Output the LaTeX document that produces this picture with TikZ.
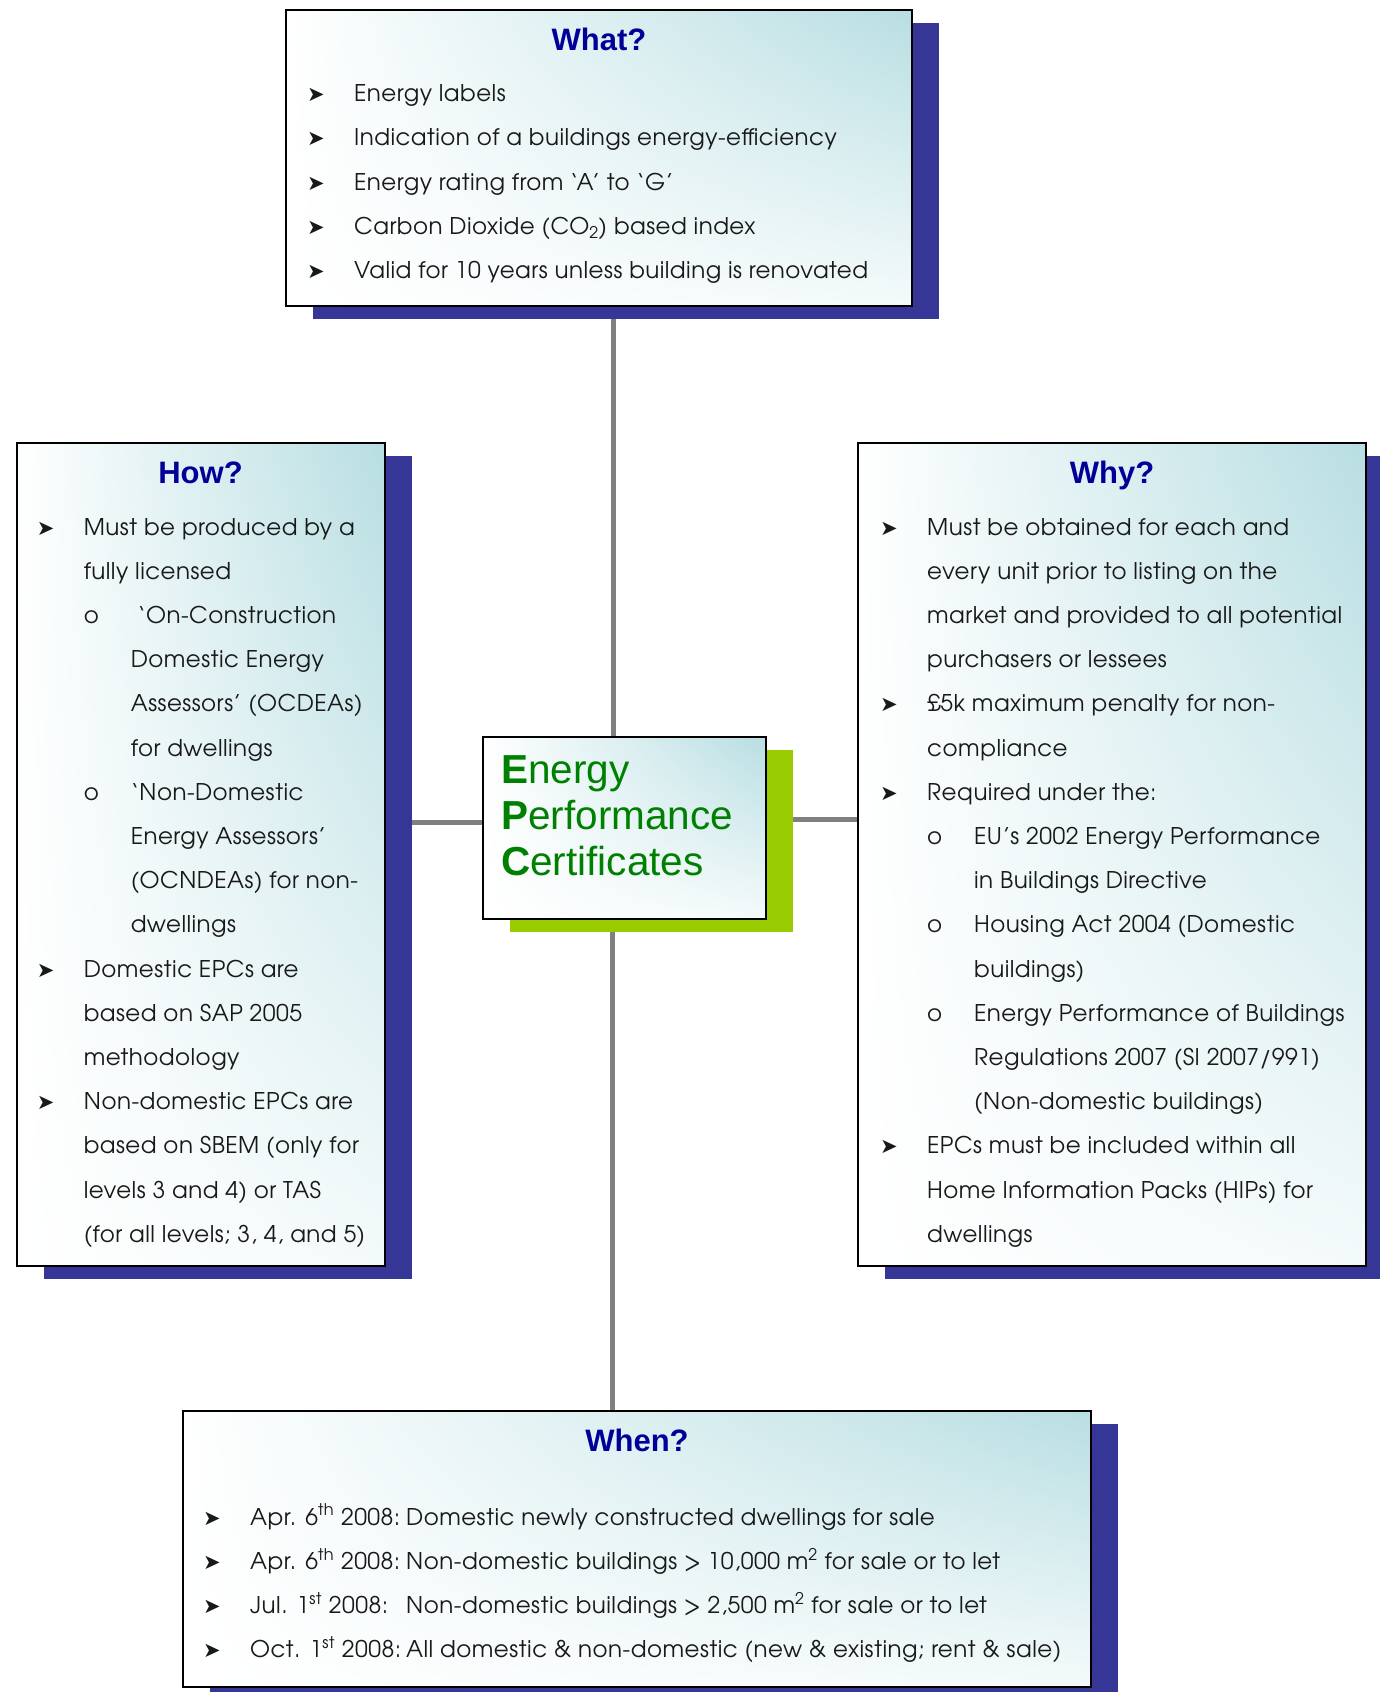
\documentclass[tikz,border=0pt]{standalone}
\usepackage{fontspec}
\setmainfont[LetterSpace=2]{TeX Gyre Adventor}
\newfontfamily\headfont{Liberation Sans}
\newfontfamily\symfont{DejaVu Sans}
\usetikzlibrary{positioning,shadows,shadings,backgrounds}

\definecolor{epcnavy}{RGB}{54,54,150}
\definecolor{epcteal}{RGB}{184,222,226}
\definecolor{epcblue}{RGB}{0,0,153}
\definecolor{epcgreen}{RGB}{0,128,0}
\definecolor{epclime}{RGB}{153,204,0}
\definecolor{epcgray}{RGB}{128,128,128}

% bullets and indents of the lists
\newcommand\arr{{\symfont\fontsize{21}{21}\selectfont ➤}}
\newcommand\itm{\makebox[47pt][l]{\arr}}
\newcommand\cont{\hspace*{47pt}}
\newcommand\sub{\hspace*{47pt}\makebox[47pt][l]{o}}
\newcommand\subcont{\hspace*{94pt}}
\newcommand\when[1]{\makebox[156pt][l]{#1}}

\tikzset{
  panel/.style={draw=black, line width=2pt, inner sep=0pt,
    upper left=white, upper right=epcteal, lower left=white, lower right=epcteal!15,
    drop shadow={shadow xshift=27pt, shadow yshift=-13pt, fill=epcnavy, opacity=1}},
  hub/.style={panel, drop shadow={shadow xshift=27pt, shadow yshift=-13pt, fill=epclime, opacity=1}},
  heading/.style={anchor=base, inner sep=0pt, text=epcblue,
    font=\headfont\bfseries\fontsize{31}{31}\selectfont},
  list/.style={anchor=base west, inner sep=0pt, text=black!90},
  link/.style={draw=epcgray, line width=5pt}
}

\begin{document}
\begin{tikzpicture}[x=1pt,y=-1pt]
  \useasboundingbox (0,0) rectangle (1379,1692);

  % the five boxes
  \node[panel, minimum width=626pt, minimum height=296pt] (what) at (599,158) {};
  \node[panel, minimum width=368pt, minimum height=823pt] (how) at (200.5,854.5) {};
  \node[panel, minimum width=508pt, minimum height=823pt] (why) at (1112,854.5) {};
  \node[panel, minimum width=908pt, minimum height=276pt] (when) at (637,1549) {};
  \node[hub, minimum width=283pt, minimum height=182pt] (epc) at (624.5,828) {};

  % connectors, behind everything
  \begin{scope}[on background layer]
    \draw[link] ([xshift=-11pt]epc.north) -- ([xshift=-11pt]epc.north |- what.south);
    \draw[link] ([xshift=-12pt]epc.south) -- ([xshift=-12pt]epc.south |- when.north);
    \draw[link] ([yshift=6pt]epc.west) -- ([yshift=6pt]epc.west -| how.east);
    \draw[link] ([yshift=9pt]epc.east) -- ([yshift=9pt]epc.east -| why.west);
  \end{scope}

  % headings
  \node[heading] (whattitle) at (what.center |- 0,50) {What?};
  \node[heading] (howtitle) at (how.center |- 0,483.5) {How?};
  \node[heading] (whytitle) at (why.center |- 0,483.5) {Why?};
  \node[heading] (whentitle) at (when.center |- 0,1451.5) {When?};

  % centre label
  \node[anchor=base west, inner sep=0pt, text=epcgreen, font=\headfont\fontsize{40.5}{46}\selectfont] (epctext) at (501,783.5)
    {\parbox[t]{270pt}{\raggedright\textbf{E}nergy\\\textbf{P}erformance\\\textbf{C}ertificates}};

  % lists
  \node[list] (whatlist) at (307,101.7) {\parbox[t]{600pt}{\fontsize{23}{44.2}\selectfont\raggedright
    \itm Energy labels\\
    \itm Indication of a buildings energy-efficiency\\
    \itm Energy rating from ‘A’ to ‘G’\\
    \itm Carbon Dioxide (CO\textsubscript{2}) based index\\
    \itm Valid for 10 years unless building is renovated}};

  \node[list] (howlist) at (36.6,535) {\parbox[t]{600pt}{\fontsize{23}{44.2}\selectfont\raggedright
    \itm Must be produced by a\\
    \cont fully licensed\\
    \sub\ ‘On-Construction\\
    \subcont Domestic Energy\\
    \subcont Assessors’ (OCDEAs)\\
    \subcont for dwellings\\
    \sub ‘Non-Domestic\\
    \subcont Energy Assessors’\\
    \subcont (OCNDEAs) for non-\\
    \subcont dwellings\\
    \itm Domestic EPCs are\\
    \cont based on SAP 2005\\
    \cont methodology\\
    \itm Non-domestic EPCs are\\
    \cont based on SBEM (only for\\
    \cont levels 3 and 4) or TAS\\
    \cont (for all levels; 3, 4, and 5)}};

  \node[list] (whylist) at (880,535) {\parbox[t]{600pt}{\fontsize{23}{44.2}\selectfont\raggedright
    \itm Must be obtained for each and\\
    \cont every unit prior to listing on the\\
    \cont market and provided to all potential\\
    \cont purchasers or lessees\\
    \itm £5k maximum penalty for non-\\
    \cont compliance\\
    \itm Required under the:\\
    \sub EU’s 2002 Energy Performance\\
    \subcont in Buildings Directive\\
    \sub Housing Act 2004 (Domestic\\
    \subcont buildings)\\
    \sub Energy Performance of Buildings\\
    \subcont Regulations 2007 (SI 2007/991)\\
    \subcont (Non-domestic buildings)\\
    \itm EPCs must be included within all\\
    \cont Home Information Packs (HIPs) for\\
    \cont dwellings}};

  \node[list] (whenlist) at (203,1525) {\parbox[t]{900pt}{\fontsize{23}{44.2}\selectfont\raggedright
    \itm\when{Apr. 6\textsuperscript{th} 2008:}Domestic newly constructed dwellings for sale\\
    \itm\when{Apr. 6\textsuperscript{th} 2008:}Non-domestic buildings > 10,000 m\textsuperscript{2} for sale or to let\\
    \itm\when{Jul. 1\textsuperscript{st} 2008:}Non-domestic buildings > 2,500 m\textsuperscript{2} for sale or to let\\
    \itm\when{Oct. 1\textsuperscript{st} 2008:}All domestic \& non-domestic (new \& existing; rent \& sale)}};
\end{tikzpicture}
\end{document}
